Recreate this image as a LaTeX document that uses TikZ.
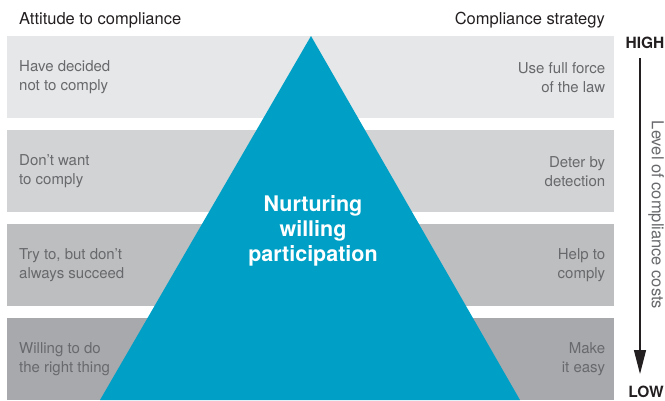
\documentclass[tikz,border=0pt]{standalone}
\usepackage{fontspec}
\setmainfont{TeX Gyre Heros}
\definecolor{bandA}{RGB}{230,231,232}
\definecolor{bandB}{RGB}{209,211,212}
\definecolor{bandC}{RGB}{188,190,192}
\definecolor{bandD}{RGB}{167,169,172}
\definecolor{pyramid}{RGB}{0,160,198}
\definecolor{labelgrey}{RGB}{104,105,108}
\definecolor{ink}{RGB}{35,31,32}
\usetikzlibrary{arrows.meta, positioning}
\tikzset{
  band/.style={rectangle, anchor=north west, inner sep=0pt,
    minimum width=607pt, minimum height=82pt},
  attitude/.style={anchor=west, align=left, inner sep=0pt,
    text=labelgrey, font=\fontsize{15}{19}\selectfont},
  strategy/.style={anchor=east, align=right, inner sep=0pt,
    text=labelgrey, font=\fontsize{15}{19}\selectfont},
  header/.style={inner sep=0pt, text=ink, font=\fontsize{16.5}{19}\selectfont},
  level/.style={inner sep=0pt, text=ink, font=\fontsize{15.5}{18}\selectfont\bfseries},
  costarrow/.style={-{Triangle[length=24pt, width=12pt]}, line width=1.3pt, color=ink},
}
\begin{document}
\begin{tikzpicture}[x=1pt, y=-1pt]
  \useasboundingbox (0,0) rectangle (665,400);

  % bands, high to low
  \node[band, fill=bandA] (band1) at (7,36) {};
  \node[band, fill=bandB] (band2) at (7,130) {};
  \node[band, fill=bandC] (band3) at (7,224) {};
  \node[band, fill=bandD] (band4) at (7,318) {};

  % pyramid
  \fill[pyramid] (311,36) -- (100,400) -- (520,400) -- cycle;
  \node[align=center, text=white, inner sep=0pt,
    font=\fontsize{21.5}{25}\selectfont\bfseries] (nurture) at (313,231)
    {Nurturing\\willing\\participation};

  % column headers
  \node[header, anchor=west] (attitude) at (19,20) {Attitude to compliance};
  \node[header, anchor=east] (strategy) at (605,20) {Compliance strategy};

  % band labels
  \node[attitude] at ([xshift=12pt]band1.west) {Have decided\\not to comply};
  \node[attitude] at ([xshift=12pt]band2.west) {Don't want\\to comply};
  \node[attitude] at ([xshift=12pt]band3.west) {Try to, but don't\\always succeed};
  \node[attitude] at ([xshift=12pt]band4.west) {Willing to do\\the right thing};
  \node[strategy] at ([xshift=-9pt]band1.east) {Use full force\\of the law};
  \node[strategy] at ([xshift=-9pt]band2.east) {Deter by\\detection};
  \node[strategy] at ([xshift=-9pt]band3.east) {Help to\\comply};
  \node[strategy] at ([xshift=-9pt]band4.east) {Make\\it easy};

  % cost axis
  \node[level] (high) at (645,43) {HIGH};
  \node[level] (low) at (646,392) {LOW};
  \coordinate (axistop) at (640,58);
  \coordinate (axisend) at (640,374);
  \draw[costarrow] (axistop) -- (axisend);
  \node[rotate=-90, inner sep=0pt, text=labelgrey,
    font=\fontsize{16.5}{19}\selectfont] (costs) at (656,215)
    {Level of compliance costs};
\end{tikzpicture}
\end{document}
